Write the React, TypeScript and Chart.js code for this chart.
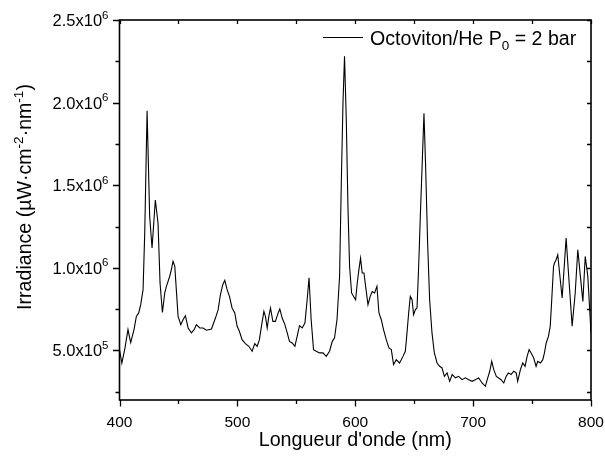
import React, { useEffect, useRef } from "react";
import { Chart, registerables } from "chart.js";

Chart.register(...registerables);

const wavelengthNm = [
  400, 402, 404.4, 407.2, 409.5, 412.3, 414.3, 416.3, 418, 420, 421.4, 423.4, 425.6, 427.6, 430.4, 432.7,
  434.4, 436.4, 438.4, 439.8, 441.2, 442.6, 444, 445.4, 446.9, 448.2, 449.7, 452, 453.9, 455.9, 458.2, 461,
  463.3, 465.2, 468.1, 470.9, 473.7, 478, 481.4, 483.7, 485.6, 487.6, 489.3, 491.3, 493.3, 495.5, 497.8,
  499.8, 501.7, 504, 506.8, 509.7, 512.5, 514.8, 516.8, 518.7, 520.4, 522.5, 523.8, 525.3, 526.7, 528.1,
  530.1, 532.3, 534.6, 536, 538, 540.3, 542.3, 544.2, 546.5, 548.8, 550.7, 552.7, 555, 557.3, 559.2, 560.8,
  562.6, 564.6, 566.9, 569.7, 572.6, 575.4, 578.2, 580.5, 582.4, 584.5, 586.7, 588.1, 589.6, 590.9, 592.4,
  593.8, 595.2, 596.9, 598.6, 600.3, 601.7, 603.1, 604.5, 605.9, 607.4, 608.8, 610.8, 612.7, 614.4, 616.4,
  618.4, 620.1, 622.1, 624, 626.3, 628.6, 630.6, 632.5, 634.8, 637.6, 640.5, 642.5, 643.9, 645.3, 646.7,
  648.2, 649.5, 651, 652.4, 653.8, 655.2, 656.7, 658.3, 659.7, 661.4, 663.1, 665.1, 667.1, 669.4, 671.6,
  673.6, 675.6, 677.9, 680.1, 682.2, 685, 687.7, 690.6, 693.4, 696.2, 699.1, 701.9, 704.7, 707.6, 710.4,
  712.4, 714.1, 715.8, 717.5, 719.7, 723.7, 726, 728, 729.9, 732.2, 734.4, 736.5, 737.8, 740.1, 742.1, 744.1,
  745.8, 747.5, 749.2, 751.4, 753.4, 754.8, 757.1, 759.1, 760.5, 762, 763.9, 765.4, 766.7, 768.2, 769, 770.4,
  771.8, 775.5, 778.9, 780.9, 784, 786.6, 788.8, 791, 793.1, 795.1, 797.3, 800,
];

const irradiance = [
  5.05e5, 4.24e5, 5.05e5, 6.26e5, 5.47e5, 6.26e5, 7.06e5, 7.27e5, 7.77e5, 8.68e5, 1.21e6, 1.95e6, 1.31e6,
  1.12e6, 1.41e6, 1.27e6, 9.08e5, 7.3e5, 8.48e5, 8.88e5, 9.18e5, 9.49e5, 9.89e5, 1.04e6, 1.01e6, 8.68e5,
  7.06e5, 6.56e5, 6.86e5, 7.1e5, 6.36e5, 6.06e5, 6.26e5, 6.56e5, 6.36e5, 6.36e5, 6.22e5, 6.3e5, 6.96e5,
  7.47e5, 8.37e5, 8.98e5, 9.24e5, 8.68e5, 8.27e5, 7.57e5, 7.27e5, 6.46e5, 6.16e5, 5.65e5, 5.41e5, 5.25e5,
  4.95e5, 5.41e5, 5.25e5, 5.65e5, 6.46e5, 7.36e5, 7.06e5, 6.36e5, 7.06e5, 7.57e5, 6.76e5, 6.76e5, 7.27e5,
  7.51e5, 6.96e5, 6.56e5, 6.06e5, 5.55e5, 5.45e5, 5.25e5, 5.85e5, 6.5e5, 6.36e5, 6.66e5, 8.07e5, 9.4e5,
  6.86e5, 5.05e5, 4.95e5, 4.85e5, 4.85e5, 4.64e5, 4.95e5, 5.55e5, 5.75e5, 6.86e5, 9.48e5, 1.49e6, 2.0e6,
  2.28e6, 1.895e6, 1.371e6, 1.008e6, 8.48e5, 8.27e5, 8.07e5, 9.08e5, 9.89e5, 1.059e6, 9.69e5, 9.69e5,
  8.88e5, 7.77e5, 8.27e5, 8.57e5, 8.48e5, 8.88e5, 7.27e5, 6.86e5, 6.26e5, 5.65e5, 5.15e5, 5.05e5, 4.14e5,
  4.44e5, 4.24e5, 4.64e5, 4.95e5, 6.06e5, 7.27e5, 8.27e5, 8.07e5, 7.16e5, 7.47e5, 7.57e5, 1.008e6, 1.31e6,
  1.613e6, 1.936e6, 1.613e6, 1.15e6, 8.07e5, 6.06e5, 4.85e5, 4.24e5, 4.04e5, 3.94e5, 3.43e5, 3.64e5,
  3.13e5, 3.54e5, 3.34e5, 3.43e5, 3.23e5, 3.34e5, 3.23e5, 3.13e5, 3.23e5, 3.34e5, 3.03e5, 2.83e5, 3.34e5,
  3.74e5, 4.34e5, 3.84e5, 3.43e5, 3.23e5, 3.03e5, 3.43e5, 3.64e5, 3.54e5, 3.74e5, 3.64e5, 3.13e5, 3.84e5,
  4.24e5, 4.04e5, 4.64e5, 5.05e5, 4.85e5, 4.54e5, 4.04e5, 4.34e5, 4.24e5, 4.44e5, 4.85e5, 5.45e5, 5.85e5,
  6.46e5, 8.07e5, 1.008e6, 1.029e6, 1.049e6, 1.079e6, 8.17e5, 1.18e6, 9.69e5, 6.46e5, 8.48e5, 1.109e6,
  9.48e5, 7.97e5, 1.069e6, 9.48e5, 6.06e5,
];

const xMin = 400;
const xMax = 800;
const xMajorStep = 100;
const xMinorStep = 50;
const yMin = 2.0e5;
const yMax = 2.5e6;
const yMajorValues = [5e5, 1e6, 1.5e6, 2e6, 2.5e6];
const yMajorMantissa = ["5.0", "1.0", "1.5", "2.0", "2.5"];
const yMajorExponent = ["5", "6", "6", "6", "6"];
const yMinorStep = 2.5e5;

const seriesLabel = "Octoviton/He P";
const seriesLabelSub = "0";
const seriesLabelRest = " = 2 bar";
const xTitle = "Longueur d'onde (nm)";
const yTitleParts = ["Irradiance (µW·cm", "-2", "·nm", "-1", ")"];

const FONT = "'Liberation Sans', Arial, sans-serif";

type Part = { text: string; size: number; dy: number };

function drawParts(ctx: CanvasRenderingContext2D, parts: Part[], x: number, y: number, align: "left" | "right" | "center") {
  let total = 0;
  const widths = parts.map((p) => {
    ctx.font = `${p.size}px ${FONT}`;
    const w = ctx.measureText(p.text).width;
    total += w;
    return w;
  });
  let cx = align === "left" ? x : align === "right" ? x - total : x - total / 2;
  ctx.textAlign = "left";
  ctx.textBaseline = "alphabetic";
  parts.forEach((p, i) => {
    ctx.font = `${p.size}px ${FONT}`;
    ctx.fillText(p.text, cx, y + p.dy);
    cx += widths[i];
  });
}

const framePlugin = {
  id: "originFrame",
  afterDraw(chart: any) {
    const { ctx, chartArea } = chart;
    const { left, right, top, bottom } = chartArea;
    const xs = chart.scales.x;
    const ys = chart.scales.y;
    ctx.save();
    ctx.strokeStyle = "#000";
    ctx.fillStyle = "#000";
    ctx.lineWidth = 1.6;
    ctx.strokeRect(left, top, right - left, bottom - top);

    ctx.lineWidth = 1.3;
    ctx.beginPath();
    for (let v = xMin; v <= xMax + 1e-6; v += xMinorStep) {
      const px = Math.round(xs.getPixelForValue(v)) + 0.5;
      const major = Math.abs(v % xMajorStep) < 1e-6;
      ctx.moveTo(px, bottom);
      ctx.lineTo(px, bottom + (major ? 6.5 : 4));
      ctx.moveTo(px, top);
      ctx.lineTo(px, top + 4);
    }
    for (let v = yMinorStep; v <= yMax + 1; v += yMinorStep) {
      const py = Math.round(ys.getPixelForValue(v)) + 0.5;
      const major = Math.abs((v / yMinorStep) % 2) < 1e-6;
      ctx.moveTo(left, py);
      ctx.lineTo(left - (major ? 6.5 : 4), py);
      ctx.moveTo(right, py);
      ctx.lineTo(right - 4, py);
    }
    ctx.stroke();

    // x tick labels
    ctx.font = `15.5px ${FONT}`;
    ctx.textAlign = "center";
    ctx.textBaseline = "alphabetic";
    for (let v = xMin; v <= xMax + 1e-6; v += xMajorStep) {
      ctx.fillText(String(v), xs.getPixelForValue(v), bottom + 27);
    }

    // y tick labels
    yMajorValues.forEach((v, i) => {
      const py = ys.getPixelForValue(v);
      drawParts(
        ctx,
        [
          { text: yMajorMantissa[i] + "x10", size: 16.5, dy: 0 },
          { text: yMajorExponent[i], size: 11.5, dy: -7.5 },
        ],
        left - 11,
        py + 6,
        "right"
      );
    });

    // x title
    ctx.fillStyle = "#000";
    ctx.font = `19.7px ${FONT}`;
    ctx.textAlign = "center";
    ctx.fillText(xTitle, (left + right) / 2, 446);

    // y title
    ctx.save();
    ctx.translate(31, 197);
    ctx.rotate(-Math.PI / 2);
    drawParts(
      ctx,
      yTitleParts.map((t, i) => (i % 2 === 1 ? { text: t, size: 13.5, dy: -8 } : { text: t, size: 19.6, dy: 0 })),
      0,
      0,
      "center"
    );
    ctx.restore();

    // legend
    ctx.lineWidth = 1.1;
    ctx.beginPath();
    ctx.moveTo(323, 37.5);
    ctx.lineTo(363, 37.5);
    ctx.stroke();
    drawParts(
      ctx,
      [
        { text: seriesLabel, size: 19.6, dy: 0 },
        { text: seriesLabelSub, size: 13.5, dy: 5 },
        { text: seriesLabelRest, size: 19.6, dy: 0 },
      ],
      370,
      45,
      "left"
    );
    ctx.restore();
  },
};

export default function App() {
  const ref = useRef<HTMLCanvasElement | null>(null);
  useEffect(() => {
    if (!ref.current) return;
    const points = wavelengthNm.map((w, i) => ({ x: w, y: irradiance[i] }));
    const chart = new Chart(ref.current, {
      type: "line",
      data: {
        datasets: [
          {
            label: seriesLabel + seriesLabelSub + seriesLabelRest,
            data: points,
            borderColor: "#000",
            borderWidth: 1.1,
            pointRadius: 0,
            tension: 0,
            fill: false,
          },
        ],
      },
      options: {
        animation: false,
        responsive: false,
        devicePixelRatio: 1,
        layout: { padding: { left: 119.5, right: 14, top: 20, bottom: 59 } },
        plugins: { legend: { display: false }, tooltip: { enabled: false } },
        scales: {
          x: { type: "linear", min: xMin, max: xMax, display: false },
          y: { type: "linear", min: yMin, max: yMax, display: false },
        },
      },
      plugins: [framePlugin],
    });
    return () => chart.destroy();
  }, []);
  return (
    <div style={{ position: "fixed", left: 0, top: 0, width: 605, height: 459, background: "#fff" }}>
      <canvas ref={ref} width={605} height={459} />
    </div>
  );
}
